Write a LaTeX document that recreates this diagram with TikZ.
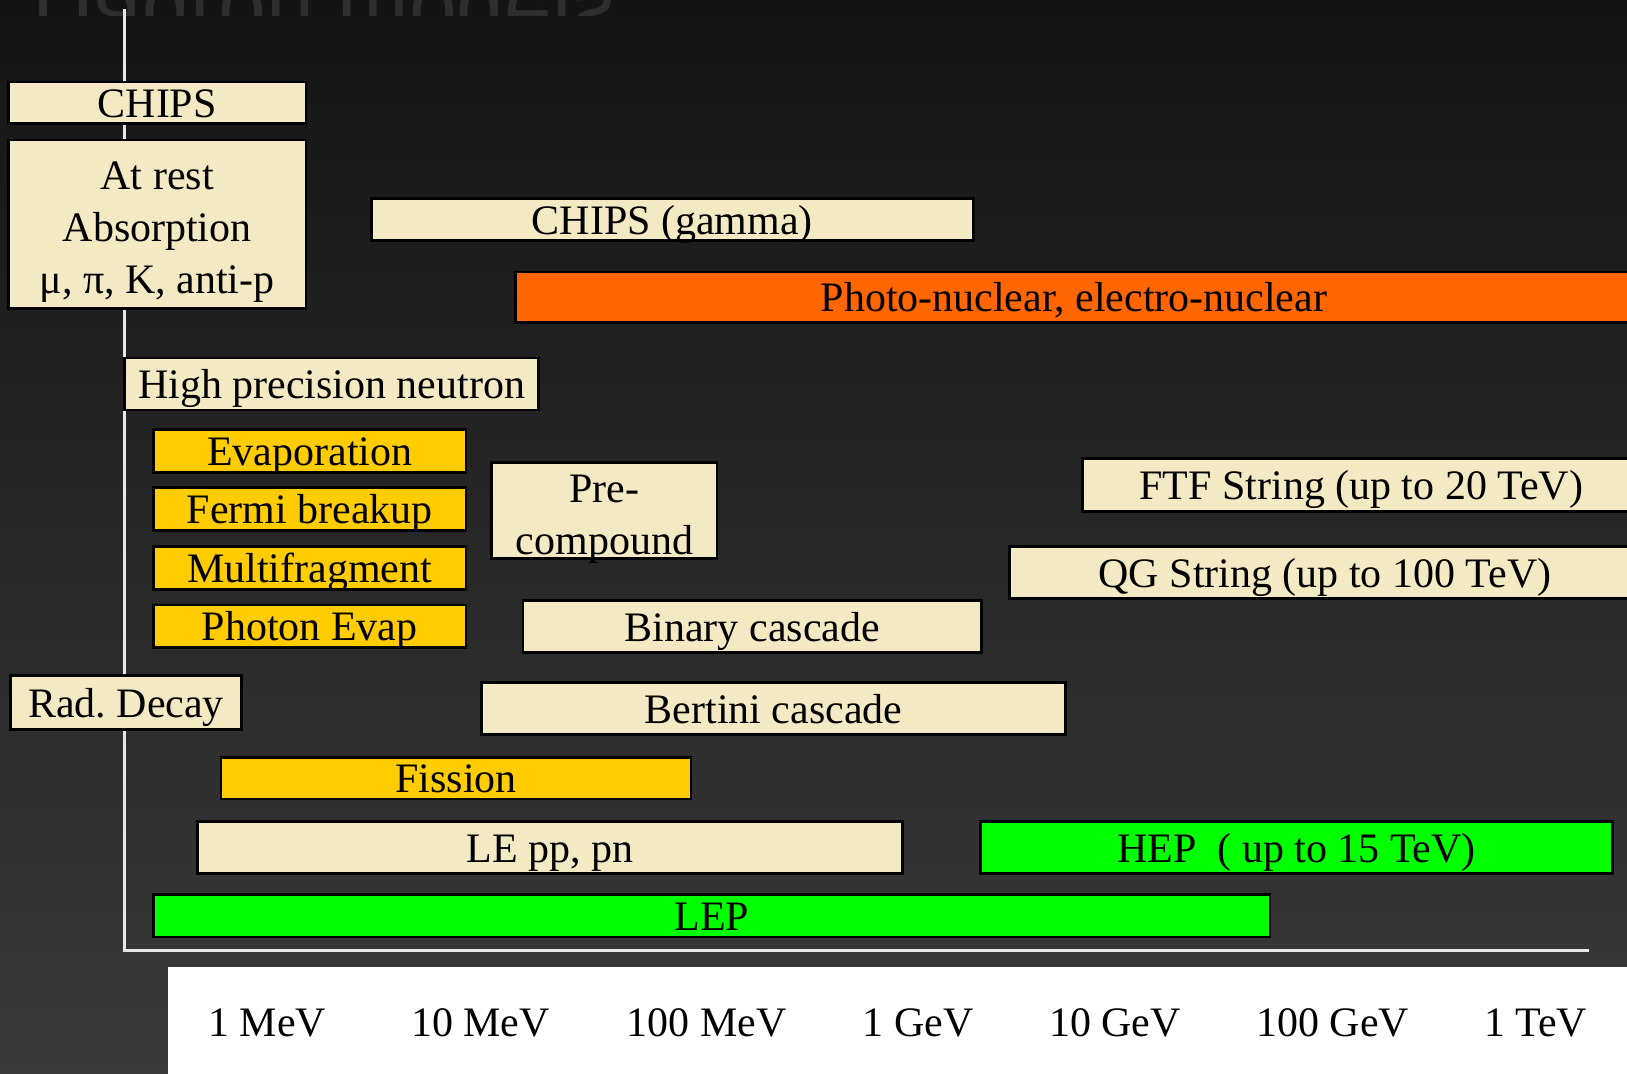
\documentclass[tikz,border=0pt]{standalone}
\usepackage{fontspec}
\setmainfont{Liberation Serif}
\newfontfamily\titlefont{Liberation Sans}
\usepackage{graphicx}
\definecolor{cream}{HTML}{F3EAC3}
\definecolor{ylw}{HTML}{FFCC00}
\definecolor{orng}{HTML}{FF6600}
\definecolor{grn}{HTML}{00FF00}
\definecolor{bgtop}{HTML}{141414}
\definecolor{bgbot}{HTML}{3A3A3A}
\definecolor{axiscol}{HTML}{E8E8E8}
\definecolor{ghost}{HTML}{2E2E2E}
\begin{document}
\begin{tikzpicture}[x=0.01cm,y=-0.01cm,
  lbl/.style={font=\fontsize{11.5}{14.2}\selectfont, text=black},
  box/.style={lbl, draw=black, line width=0.75pt, inner sep=0pt, text height=0.8em, text depth=0pt},
  mbox/.style={draw=black, line width=0.75pt, inner sep=0pt},
  mtext/.style={lbl, inner sep=0pt, align=center},
  sz/.style 2 args={minimum width=#1*0.01cm, minimum height=#2*0.01cm},
  cbox/.style={box, fill=cream},
  ybox/.style={box, fill=ylw},
  obox/.style={box, fill=orng},
  gbox/.style={box, fill=grn},
  axisline/.style={draw=axiscol, line width=0.6pt},
  tick/.style={lbl, anchor=base}
]
\useasboundingbox (0,0) rectangle (1568,1035);
% background
\shade[top color=bgtop, bottom color=bgbot] (0,0) rectangle (1568,1035);
% reflected title, cut by the top edge
\begin{scope}
  \clip (0,0) rectangle (1568,15);
  \node[anchor=base west, inner sep=0pt, text=ghost, font=\titlefont\fontsize{23.5}{28}\selectfont] (title) at (31,-10) {\scalebox{1}[-1]{Hadron models}};
\end{scope}
% axes
\coordinate (axtop) at (120,9);
\coordinate (origin) at (120,916);
\coordinate (axright) at (1531,916);
\draw[axisline] (axtop) -- (origin) -- (axright);
% white label strip
\fill[white] (162,932) rectangle (1568,1035);
\node[tick] (e1) at (257.5,999) {1 MeV};
\node[tick] (e2) at (463,999) {10 MeV};
\node[tick] (e3) at (681,999) {100 MeV};
\node[tick] (e4) at (885,999) {1 GeV};
\node[tick] (e5) at (1074.5,999) {10 GeV};
\node[tick] (e6) at (1284.5,999) {100 GeV};
\node[tick] (e7) at (1480,999) {1 TeV};
% model boxes
\node[cbox, sz={287}{40}] (chips) at (151.5,99) {CHIPS};
\node[mbox, fill=cream, sz={287}{162}] (atrest) at (151.5,216) {};
\node[mtext] (atresttxt) at (151.5,224) {At rest\\Absorption\\μ, π, K, anti-p};
\node[cbox, sz={580}{41}] (chipsg) at (648,211.5) {CHIPS (gamma)};
\node[obox, sz={1076}{49}] (photo) at (1035,286.5) {Photo-nuclear, electro-nuclear};
\node[cbox, sz={399}{50}] (hpn) at (319.5,370) {High precision neutron};
\node[ybox, sz={301}{41}] (evap) at (298.5,434.5) {Evaporation};
\node[ybox, sz={301}{41}] (fermi) at (298.5,490.5) {Fermi breakup};
\node[ybox, sz={301}{41}] (multi) at (298.5,547.5) {Multifragment};
\node[ybox, sz={301}{41}] (photev) at (298.5,603.5) {Photon Evap};
\node[mbox, fill=cream, sz={217}{92}] (precomp) at (582.5,492) {};
\node[mtext] (precomptxt) at (582.5,500) {Pre-\\compound};
\node[cbox, sz={538}{51}] (ftf) at (1312,467.5) {FTF String (up to 20 TeV)};
\node[cbox, sz={608}{50}] (qg) at (1277,552) {QG String (up to 100 TeV)};
\node[cbox, sz={442}{50}] (binary) at (725,604) {Binary cascade};
\node[cbox, sz={223}{52}] (raddec) at (121.5,677) {Rad.\ Decay};
\node[cbox, sz={563}{50}] (bertini) at (745.5,683) {Bertini cascade};
\node[ybox, sz={453}{40}] (fission) at (439.5,750) {Fission};
\node[cbox, sz={680}{50}] (lepp) at (530,817) {LE pp, pn};
\node[gbox, sz={609}{50}] (hep) at (1249.5,817) {HEP\ \ ( up to 15 TeV)};
\node[gbox, sz={1076}{41}] (lep) at (686,882.5) {LEP};
\end{tikzpicture}
\end{document}
